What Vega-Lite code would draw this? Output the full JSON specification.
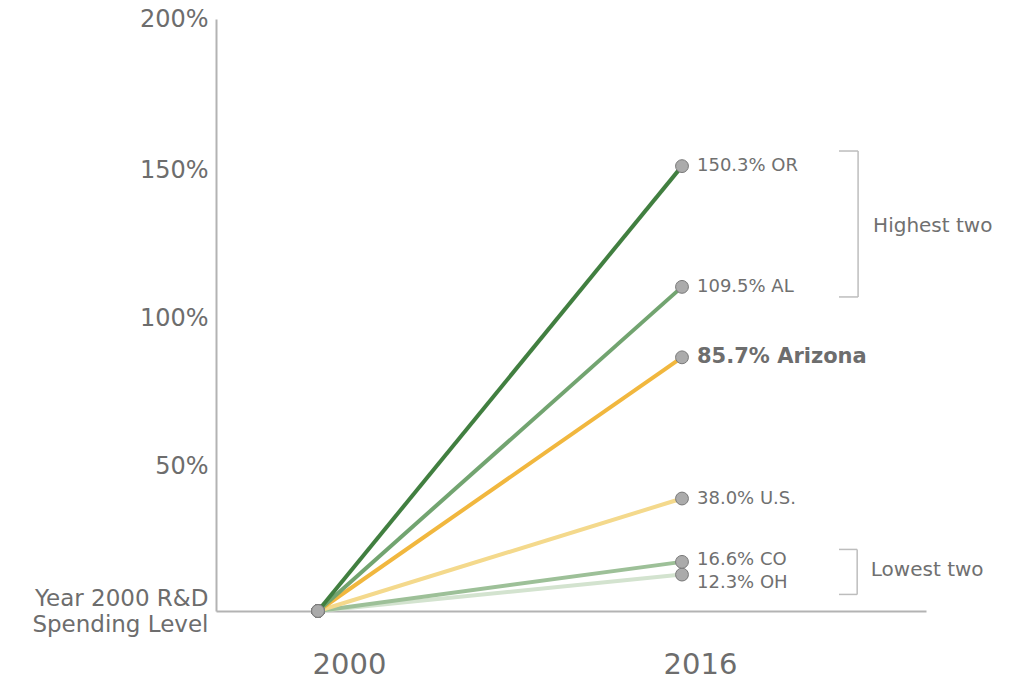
{
  "$schema": "https://vega.github.io/schema/vega-lite/v6.json",
  "autosize": "none",
  "width": 710,
  "height": 592,
  "padding": {"left": 216, "top": 19, "right": 91, "bottom": 70},
  "background": "white",
  "config": {"view": {"stroke": null}, "font": "DejaVu Sans"},
  "datasets": {
    "lines": [
      {"state": "OH", "year": 2000, "value": 0},
      {"state": "OH", "year": 2016, "value": 12.3},
      {"state": "CO", "year": 2000, "value": 0},
      {"state": "CO", "year": 2016, "value": 16.6},
      {"state": "U.S.", "year": 2000, "value": 0},
      {"state": "U.S.", "year": 2016, "value": 38.0},
      {"state": "Arizona", "year": 2000, "value": 0},
      {"state": "Arizona", "year": 2016, "value": 85.7},
      {"state": "AL", "year": 2000, "value": 0},
      {"state": "AL", "year": 2016, "value": 109.5},
      {"state": "OR", "year": 2000, "value": 0},
      {"state": "OR", "year": 2016, "value": 150.3}
    ],
    "brackets": [
      {"x1": 2022.9, "x2": 2023.74, "y1": 155.4, "y2": 155.4},
      {"x1": 2023.74, "x2": 2023.74, "y1": 155.4, "y2": 106.1},
      {"x1": 2022.9, "x2": 2023.74, "y1": 106.1, "y2": 106.1},
      {"x1": 2022.9, "x2": 2023.7, "y1": 20.8, "y2": 20.8},
      {"x1": 2023.7, "x2": 2023.7, "y1": 20.8, "y2": 5.6},
      {"x1": 2022.9, "x2": 2023.7, "y1": 5.6, "y2": 5.6}
    ],
    "bracketLabels": [
      {"x": 2024.4, "y": 130, "label": "Highest two"},
      {"x": 2024.3, "y": 13.9, "label": "Lowest two"}
    ]
  },
  "layer": [
    {
      "data": {"name": "lines"},
      "mark": {"type": "line", "strokeWidth": 4},
      "encoding": {
        "x": {
          "field": "year", "type": "quantitative",
          "scale": {"domain": [1995.5165, 2026.7253], "nice": false, "zero": false},
          "axis": {
            "values": [2000, 2016], "format": "d", "title": null, "ticks": false, "grid": false,
            "domainColor": "#b3b3b3", "domainWidth": 2,
            "labelFontSize": 29, "labelColor": "#6d6d6d", "labelPadding": 39, "labelFont": "DejaVu Sans",
            "labelOffset": {"condition": {"test": "datum.value == 2000", "value": 31}, "value": 18}
          }
        },
        "y": {
          "field": "value", "type": "quantitative",
          "scale": {"domain": [0, 200], "nice": false},
          "axis": {
            "values": [0, 50, 100, 150, 200], "title": null, "ticks": false, "grid": false,
            "domainColor": "#b3b3b3", "domainWidth": 2,
            "labelExpr": "datum.value == 0 ? ['Year 2000 R&D', 'Spending Level'] : datum.value + '%'",
            "labelFontSize": {"condition": {"test": "datum.value == 0", "value": 23}, "value": 24},
            "labelOffset": {"condition": [{"test": "datum.value == 0", "value": -13}, {"test": "datum.value == 200", "value": 0}], "value": 3},
            "labelLineHeight": 26,
            "labelColor": "#6d6d6d", "labelPadding": 8, "labelFont": "DejaVu Sans"
          }
        },
        "color": {
          "field": "state", "type": "nominal", "legend": null,
          "scale": {
            "domain": ["OH", "CO", "U.S.", "Arizona", "AL", "OR"],
            "range": ["#d3e3cf", "#9dc098", "#f4d98c", "#f1b73e", "#72a470", "#417f40"]
          }
        }
      }
    },
    {
      "data": {"name": "lines"},
      "mark": {"type": "point", "filled": true, "size": 165, "fill": "#ababab", "stroke": "#7a7a7a", "strokeWidth": 1, "opacity": 1},
      "encoding": {
        "x": {"field": "year", "type": "quantitative"},
        "y": {"field": "value", "type": "quantitative"}
      }
    },
    {
      "data": {"name": "lines"},
      "transform": [
        {"filter": "datum.year == 2016 && datum.state != 'Arizona' && datum.state != 'OH' && datum.state != 'CO'"},
        {"calculate": "format(datum.value, '.1f') + '% ' + datum.state", "as": "lbl"}
      ],
      "mark": {"type": "text", "align": "left", "baseline": "middle", "dx": 15, "fontSize": 18, "color": "#707070", "font": "DejaVu Sans"},
      "encoding": {
        "x": {"field": "year", "type": "quantitative"},
        "y": {"field": "value", "type": "quantitative"},
        "text": {"field": "lbl"}
      }
    },
    {
      "data": {"name": "lines"},
      "transform": [
        {"filter": "datum.year == 2016 && datum.state == 'CO'"},
        {"calculate": "format(datum.value, '.1f') + '% ' + datum.state", "as": "lbl"}
      ],
      "mark": {"type": "text", "align": "left", "baseline": "middle", "dx": 15, "dy": -2, "fontSize": 18, "color": "#707070", "font": "DejaVu Sans"},
      "encoding": {
        "x": {"field": "year", "type": "quantitative"},
        "y": {"field": "value", "type": "quantitative"},
        "text": {"field": "lbl"}
      }
    },
    {
      "data": {"name": "lines"},
      "transform": [
        {"filter": "datum.year == 2016 && datum.state == 'OH'"},
        {"calculate": "format(datum.value, '.1f') + '% ' + datum.state", "as": "lbl"}
      ],
      "mark": {"type": "text", "align": "left", "baseline": "middle", "dx": 15, "dy": 8, "fontSize": 18, "color": "#707070", "font": "DejaVu Sans"},
      "encoding": {
        "x": {"field": "year", "type": "quantitative"},
        "y": {"field": "value", "type": "quantitative"},
        "text": {"field": "lbl"}
      }
    },
    {
      "data": {"name": "lines"},
      "transform": [
        {"filter": "datum.year == 2016 && datum.state == 'Arizona'"},
        {"calculate": "format(datum.value, '.1f') + '% ' + datum.state", "as": "lbl"}
      ],
      "mark": {"type": "text", "align": "left", "baseline": "middle", "dx": 15, "fontSize": 21, "fontWeight": "bold", "color": "#6d6d6d", "font": "DejaVu Sans"},
      "encoding": {
        "x": {"field": "year", "type": "quantitative"},
        "y": {"field": "value", "type": "quantitative"},
        "text": {"field": "lbl"}
      }
    },
    {
      "data": {"name": "brackets"},
      "mark": {"type": "rule", "color": "#bdbdbd", "strokeWidth": 1.5},
      "encoding": {
        "x": {"field": "x1", "type": "quantitative"},
        "x2": {"field": "x2"},
        "y": {"field": "y1", "type": "quantitative"},
        "y2": {"field": "y2"}
      }
    },
    {
      "data": {"name": "bracketLabels"},
      "mark": {"type": "text", "align": "left", "baseline": "middle", "fontSize": 20, "color": "#707070", "font": "DejaVu Sans"},
      "encoding": {
        "x": {"field": "x", "type": "quantitative"},
        "y": {"field": "y", "type": "quantitative"},
        "text": {"field": "label"}
      }
    }
  ]
}
